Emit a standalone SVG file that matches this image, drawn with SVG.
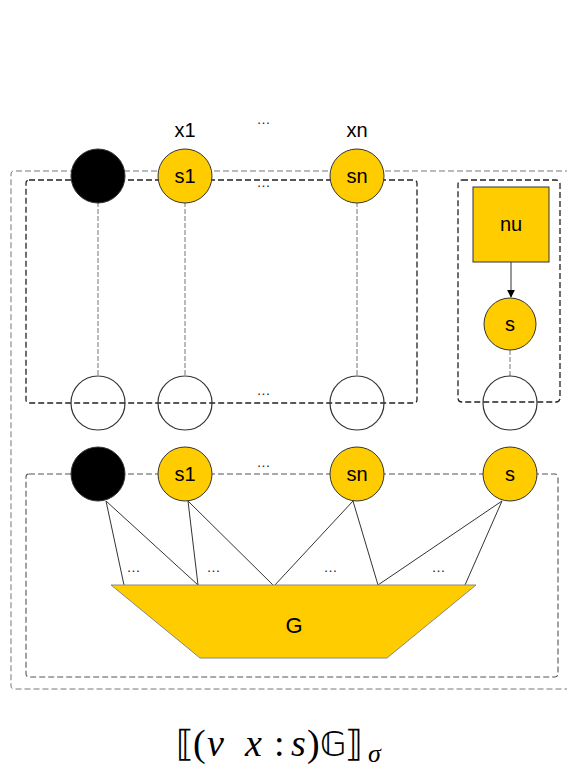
<svg xmlns="http://www.w3.org/2000/svg" width="567" height="767" viewBox="0 0 567 767">
  <style>
    .lbl { font-family: "Liberation Sans", Arial, sans-serif; fill: #000; text-anchor: middle; }
    .node-lbl { font-size: 20px; }
    .dots { font-size: 14px; fill: #222; letter-spacing: 1px; }
    .gold { fill: #FFCC00; stroke: #333; stroke-width: 1; }
    .black { fill: #000; stroke: #333; stroke-width: 1; }
    .hollow { fill: none; stroke: #333; stroke-width: 1.2; }
    .outer { fill: none; stroke: #777; stroke-width: 1; stroke-dasharray: 6 3; }
    .inner { fill: none; stroke: #222; stroke-width: 1.3; stroke-dasharray: 6 3; }
    .inner2 { fill: none; stroke: #555; stroke-width: 1.1; stroke-dasharray: 6 3; }
    .tie { fill: none; stroke: #777; stroke-width: 1; stroke-dasharray: 5 2; }
    .edge { fill: none; stroke: #333; stroke-width: 1; }
    .math { font-family: "Liberation Serif", "DejaVu Serif", serif; font-size: 38px; fill: #000; }
  </style>
  <defs>
    <marker id="arrow" viewBox="0 0 10 10" refX="9" refY="5" markerWidth="8" markerHeight="8" markerUnits="userSpaceOnUse" orient="auto">
      <path d="M0,0 L10,5 L0,10 Z" fill="#000"/>
    </marker>
  </defs>

  <rect width="567" height="767" fill="#fff"/>

  <!-- frames -->
  <g id="frames">
    <path class="outer" d="M580,171 H14 Q11,171 11,174 V686 Q11,689 14,689 H580"/>
    <rect class="inner" x="26" y="180" width="391" height="223" rx="3"/>
    <rect class="inner" x="458" y="180" width="102" height="222" rx="4"/>
    <rect class="inner2" x="26" y="474" width="532" height="203" rx="3"/>
  </g>

  <!-- connectors -->
  <g id="connectors">
    <!-- sharing ties between the upper row and the lower open ports -->
    <line class="tie" x1="98" y1="202" x2="98" y2="376"/>
    <line class="tie" x1="185" y1="202" x2="185" y2="376"/>
    <line class="tie" x1="357" y1="202" x2="357" y2="376"/>
    <line class="tie" x1="510" y1="350" x2="510" y2="376"/>
    <!-- nu feeds s -->
    <line class="edge" x1="511" y1="262" x2="511" y2="297" marker-end="url(#arrow)"/>
    <!-- lower row wired into G -->
    <line class="edge" x1="106" y1="501" x2="124" y2="585"/>
    <line class="edge" x1="106" y1="501" x2="198" y2="585"/>
    <line class="edge" x1="188" y1="501" x2="198" y2="585"/>
    <line class="edge" x1="188" y1="501" x2="274" y2="586"/>
    <line class="edge" x1="353" y1="501" x2="274" y2="586"/>
    <line class="edge" x1="353" y1="501" x2="378" y2="585"/>
    <line class="edge" x1="502" y1="501" x2="378" y2="585"/>
    <line class="edge" x1="502" y1="501" x2="465" y2="585"/>
  </g>

  <!-- upper row -->
  <g id="top-root"><circle class="black" cx="98" cy="176" r="27"/></g>
  <g id="top-s1">
    <circle class="gold" cx="185" cy="176" r="27"/>
    <text class="lbl node-lbl" x="185" y="183">s1</text>
  </g>
  <g id="top-sn">
    <circle class="gold" cx="357" cy="176" r="27"/>
    <text class="lbl node-lbl" x="357" y="183">sn</text>
  </g>
  <g id="names">
    <text class="lbl node-lbl" x="185" y="137">x1</text>
    <text class="lbl node-lbl" x="357" y="137">xn</text>
    <text class="lbl dots" x="264" y="124">…</text>
    <text class="lbl dots" x="264" y="187">…</text>
  </g>

  <!-- nu generator -->
  <g id="nu">
    <rect class="gold" x="473" y="187" width="76" height="75"/>
    <text class="lbl node-lbl" x="511" y="231">nu</text>
  </g>
  <g id="nu-s">
    <circle class="gold" cx="510" cy="324" r="26"/>
    <text class="lbl node-lbl" x="510" y="331">s</text>
  </g>

  <!-- open ports -->
  <g id="port-root"><circle class="hollow" cx="98" cy="403" r="27"/></g>
  <g id="port-s1"><circle class="hollow" cx="185" cy="403" r="27"/></g>
  <g id="port-sn"><circle class="hollow" cx="357" cy="403" r="27"/></g>
  <g id="port-s"><circle class="hollow" cx="510" cy="403" r="27"/></g>
  <text class="lbl dots" x="264" y="395">…</text>

  <!-- lower row -->
  <g id="low-root"><circle class="black" cx="98" cy="474" r="27"/></g>
  <g id="low-s1">
    <circle class="gold" cx="185" cy="474" r="27"/>
    <text class="lbl node-lbl" x="185" y="481">s1</text>
  </g>
  <g id="low-sn">
    <circle class="gold" cx="357" cy="474" r="27"/>
    <text class="lbl node-lbl" x="357" y="481">sn</text>
  </g>
  <g id="low-s">
    <circle class="gold" cx="510" cy="474" r="27"/>
    <text class="lbl node-lbl" x="510" y="481">s</text>
  </g>
  <text class="lbl dots" x="264" y="467">…</text>

  <!-- graph body -->
  <g id="G">
    <polygon points="111,585 476,585 387,658 200,658" fill="#FFCC00" stroke="#888" stroke-width="1"/>
    <text class="lbl" x="294" y="633" font-size="22">G</text>
    <text class="lbl dots" x="134" y="572">…</text>
    <text class="lbl dots" x="214" y="572">…</text>
    <text class="lbl dots" x="331" y="572">…</text>
    <text class="lbl dots" x="439" y="572">…</text>
  </g>

  <!-- caption: semantic bracket of the restricted graph -->
  <text class="math" y="756"><tspan x="176" font-family="DejaVu Serif, serif" font-size="36">⟦</tspan><tspan x="193">(</tspan><tspan x="207" font-style="italic">ν</tspan><tspan x="245" font-style="italic">x</tspan><tspan x="274">:</tspan><tspan x="291" font-style="italic">s</tspan><tspan x="307">)</tspan><tspan x="320" font-family="DejaVu Sans, sans-serif" font-size="34">𝔾</tspan><tspan x="345" font-family="DejaVu Serif, serif" font-size="36">⟧</tspan><tspan x="368" dy="6" font-style="italic" font-size="26">σ</tspan></text>
</svg>
